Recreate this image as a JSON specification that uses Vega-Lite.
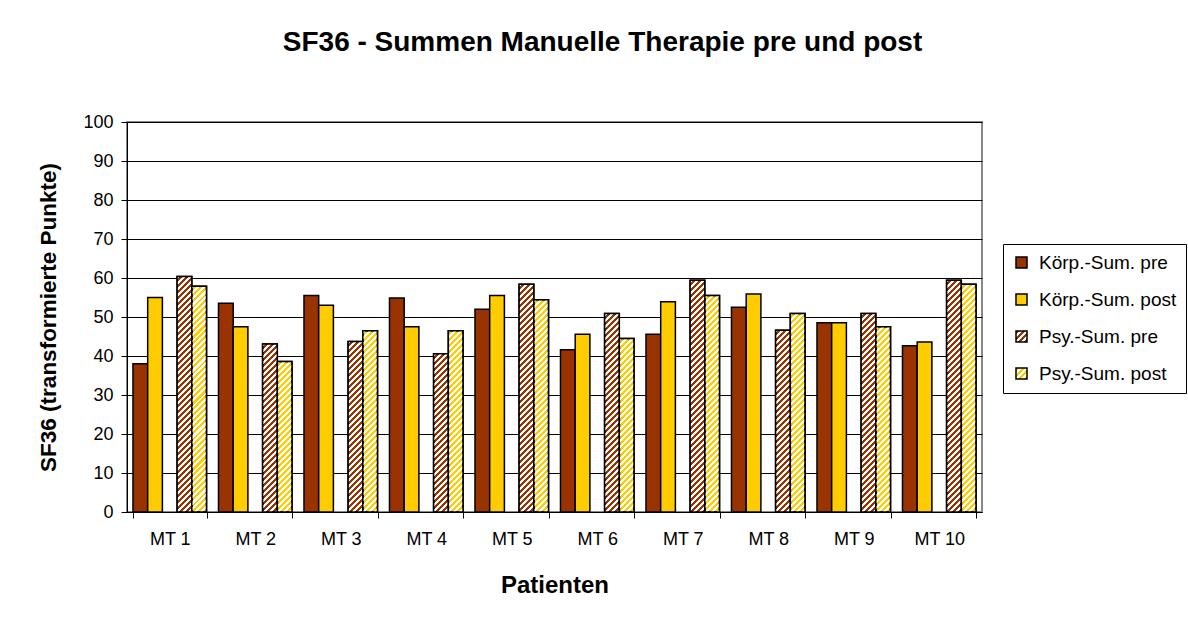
{
  "$schema": "https://vega.github.io/schema/vega-lite/v6.json",
  "autosize": {"type": "none"},
  "width": 855,
  "height": 390,
  "padding": {"left": 127, "top": 122, "right": 206, "bottom": 113},
  "background": "white",
  "config": {
    "font": "Liberation Sans",
    "view": {"stroke": "#888888", "strokeWidth": 2},
    "axis": {"labelFont": "Liberation Sans", "titleFont": "Liberation Sans", "labelColor": "black", "titleColor": "black", "domainColor": "black", "tickColor": "black"}
  },
  "title": {
    "text": "SF36 - Summen Manuelle Therapie pre und post",
    "font": "Liberation Sans",
    "fontSize": 28,
    "fontWeight": "bold",
    "color": "black",
    "anchor": "middle",
    "dx": 48,
    "baseline": "alphabetic",
    "offset": 34
  },
  "params": [
    {"name": "hatch", "value": [
      {"offset":0,"color":"white"},{"offset":0.01136,"color":"white"},{"offset":0.01136,"color":"transparent"},{"offset":0.02273,"color":"transparent"},
      {"offset":0.02273,"color":"white"},{"offset":0.03409,"color":"white"},{"offset":0.03409,"color":"transparent"},{"offset":0.04545,"color":"transparent"},
      {"offset":0.04545,"color":"white"},{"offset":0.05682,"color":"white"},{"offset":0.05682,"color":"transparent"},{"offset":0.06818,"color":"transparent"},
      {"offset":0.06818,"color":"white"},{"offset":0.07955,"color":"white"},{"offset":0.07955,"color":"transparent"},{"offset":0.09091,"color":"transparent"},
      {"offset":0.09091,"color":"white"},{"offset":0.10227,"color":"white"},{"offset":0.10227,"color":"transparent"},{"offset":0.11364,"color":"transparent"},
      {"offset":0.11364,"color":"white"},{"offset":0.125,"color":"white"},{"offset":0.125,"color":"transparent"},{"offset":0.13636,"color":"transparent"},
      {"offset":0.13636,"color":"white"},{"offset":0.14773,"color":"white"},{"offset":0.14773,"color":"transparent"},{"offset":0.15909,"color":"transparent"},
      {"offset":0.15909,"color":"white"},{"offset":0.17045,"color":"white"},{"offset":0.17045,"color":"transparent"},{"offset":0.18182,"color":"transparent"},
      {"offset":0.18182,"color":"white"},{"offset":0.19318,"color":"white"},{"offset":0.19318,"color":"transparent"},{"offset":0.20455,"color":"transparent"},
      {"offset":0.20455,"color":"white"},{"offset":0.21591,"color":"white"},{"offset":0.21591,"color":"transparent"},{"offset":0.22727,"color":"transparent"},
      {"offset":0.22727,"color":"white"},{"offset":0.23864,"color":"white"},{"offset":0.23864,"color":"transparent"},{"offset":0.25,"color":"transparent"},
      {"offset":0.25,"color":"white"},{"offset":0.26136,"color":"white"},{"offset":0.26136,"color":"transparent"},{"offset":0.27273,"color":"transparent"},
      {"offset":0.27273,"color":"white"},{"offset":0.28409,"color":"white"},{"offset":0.28409,"color":"transparent"},{"offset":0.29545,"color":"transparent"},
      {"offset":0.29545,"color":"white"},{"offset":0.30682,"color":"white"},{"offset":0.30682,"color":"transparent"},{"offset":0.31818,"color":"transparent"},
      {"offset":0.31818,"color":"white"},{"offset":0.32955,"color":"white"},{"offset":0.32955,"color":"transparent"},{"offset":0.34091,"color":"transparent"},
      {"offset":0.34091,"color":"white"},{"offset":0.35227,"color":"white"},{"offset":0.35227,"color":"transparent"},{"offset":0.36364,"color":"transparent"},
      {"offset":0.36364,"color":"white"},{"offset":0.375,"color":"white"},{"offset":0.375,"color":"transparent"},{"offset":0.38636,"color":"transparent"},
      {"offset":0.38636,"color":"white"},{"offset":0.39773,"color":"white"},{"offset":0.39773,"color":"transparent"},{"offset":0.40909,"color":"transparent"},
      {"offset":0.40909,"color":"white"},{"offset":0.42045,"color":"white"},{"offset":0.42045,"color":"transparent"},{"offset":0.43182,"color":"transparent"},
      {"offset":0.43182,"color":"white"},{"offset":0.44318,"color":"white"},{"offset":0.44318,"color":"transparent"},{"offset":0.45455,"color":"transparent"},
      {"offset":0.45455,"color":"white"},{"offset":0.46591,"color":"white"},{"offset":0.46591,"color":"transparent"},{"offset":0.47727,"color":"transparent"},
      {"offset":0.47727,"color":"white"},{"offset":0.48864,"color":"white"},{"offset":0.48864,"color":"transparent"},{"offset":0.5,"color":"transparent"},
      {"offset":0.5,"color":"white"},{"offset":0.51136,"color":"white"},{"offset":0.51136,"color":"transparent"},{"offset":0.52273,"color":"transparent"},
      {"offset":0.52273,"color":"white"},{"offset":0.53409,"color":"white"},{"offset":0.53409,"color":"transparent"},{"offset":0.54545,"color":"transparent"},
      {"offset":0.54545,"color":"white"},{"offset":0.55682,"color":"white"},{"offset":0.55682,"color":"transparent"},{"offset":0.56818,"color":"transparent"},
      {"offset":0.56818,"color":"white"},{"offset":0.57955,"color":"white"},{"offset":0.57955,"color":"transparent"},{"offset":0.59091,"color":"transparent"},
      {"offset":0.59091,"color":"white"},{"offset":0.60227,"color":"white"},{"offset":0.60227,"color":"transparent"},{"offset":0.61364,"color":"transparent"},
      {"offset":0.61364,"color":"white"},{"offset":0.625,"color":"white"},{"offset":0.625,"color":"transparent"},{"offset":0.63636,"color":"transparent"},
      {"offset":0.63636,"color":"white"},{"offset":0.64773,"color":"white"},{"offset":0.64773,"color":"transparent"},{"offset":0.65909,"color":"transparent"},
      {"offset":0.65909,"color":"white"},{"offset":0.67045,"color":"white"},{"offset":0.67045,"color":"transparent"},{"offset":0.68182,"color":"transparent"},
      {"offset":0.68182,"color":"white"},{"offset":0.69318,"color":"white"},{"offset":0.69318,"color":"transparent"},{"offset":0.70455,"color":"transparent"},
      {"offset":0.70455,"color":"white"},{"offset":0.71591,"color":"white"},{"offset":0.71591,"color":"transparent"},{"offset":0.72727,"color":"transparent"},
      {"offset":0.72727,"color":"white"},{"offset":0.73864,"color":"white"},{"offset":0.73864,"color":"transparent"},{"offset":0.75,"color":"transparent"},
      {"offset":0.75,"color":"white"},{"offset":0.76136,"color":"white"},{"offset":0.76136,"color":"transparent"},{"offset":0.77273,"color":"transparent"},
      {"offset":0.77273,"color":"white"},{"offset":0.78409,"color":"white"},{"offset":0.78409,"color":"transparent"},{"offset":0.79545,"color":"transparent"},
      {"offset":0.79545,"color":"white"},{"offset":0.80682,"color":"white"},{"offset":0.80682,"color":"transparent"},{"offset":0.81818,"color":"transparent"},
      {"offset":0.81818,"color":"white"},{"offset":0.82955,"color":"white"},{"offset":0.82955,"color":"transparent"},{"offset":0.84091,"color":"transparent"},
      {"offset":0.84091,"color":"white"},{"offset":0.85227,"color":"white"},{"offset":0.85227,"color":"transparent"},{"offset":0.86364,"color":"transparent"},
      {"offset":0.86364,"color":"white"},{"offset":0.875,"color":"white"},{"offset":0.875,"color":"transparent"},{"offset":0.88636,"color":"transparent"},
      {"offset":0.88636,"color":"white"},{"offset":0.89773,"color":"white"},{"offset":0.89773,"color":"transparent"},{"offset":0.90909,"color":"transparent"},
      {"offset":0.90909,"color":"white"},{"offset":0.92045,"color":"white"},{"offset":0.92045,"color":"transparent"},{"offset":0.93182,"color":"transparent"},
      {"offset":0.93182,"color":"white"},{"offset":0.94318,"color":"white"},{"offset":0.94318,"color":"transparent"},{"offset":0.95455,"color":"transparent"},
      {"offset":0.95455,"color":"white"},{"offset":0.96591,"color":"white"},{"offset":0.96591,"color":"transparent"},{"offset":0.97727,"color":"transparent"},
      {"offset":0.97727,"color":"white"},{"offset":0.98864,"color":"white"},{"offset":0.98864,"color":"transparent"},{"offset":1,"color":"transparent"}
    ]}
  ],
  "data": {"values": [
    {"patient":"MT 1","series":"Körp.-Sum. pre","value":38.0},
    {"patient":"MT 1","series":"Körp.-Sum. post","value":55.0},
    {"patient":"MT 1","series":"Psy.-Sum. pre","value":60.4},
    {"patient":"MT 1","series":"Psy.-Sum. post","value":57.9},
    {"patient":"MT 2","series":"Körp.-Sum. pre","value":53.5},
    {"patient":"MT 2","series":"Körp.-Sum. post","value":47.5},
    {"patient":"MT 2","series":"Psy.-Sum. pre","value":43.1},
    {"patient":"MT 2","series":"Psy.-Sum. post","value":38.6},
    {"patient":"MT 3","series":"Körp.-Sum. pre","value":55.5},
    {"patient":"MT 3","series":"Körp.-Sum. post","value":53.0},
    {"patient":"MT 3","series":"Psy.-Sum. pre","value":43.7},
    {"patient":"MT 3","series":"Psy.-Sum. post","value":46.5},
    {"patient":"MT 4","series":"Körp.-Sum. pre","value":54.9},
    {"patient":"MT 4","series":"Körp.-Sum. post","value":47.5},
    {"patient":"MT 4","series":"Psy.-Sum. pre","value":40.6},
    {"patient":"MT 4","series":"Psy.-Sum. post","value":46.5},
    {"patient":"MT 5","series":"Körp.-Sum. pre","value":52.0},
    {"patient":"MT 5","series":"Körp.-Sum. post","value":55.5},
    {"patient":"MT 5","series":"Psy.-Sum. pre","value":58.4},
    {"patient":"MT 5","series":"Psy.-Sum. post","value":54.4},
    {"patient":"MT 6","series":"Körp.-Sum. pre","value":41.6},
    {"patient":"MT 6","series":"Körp.-Sum. post","value":45.6},
    {"patient":"MT 6","series":"Psy.-Sum. pre","value":50.9},
    {"patient":"MT 6","series":"Psy.-Sum. post","value":44.5},
    {"patient":"MT 7","series":"Körp.-Sum. pre","value":45.6},
    {"patient":"MT 7","series":"Körp.-Sum. post","value":53.9},
    {"patient":"MT 7","series":"Psy.-Sum. pre","value":59.4},
    {"patient":"MT 7","series":"Psy.-Sum. post","value":55.5},
    {"patient":"MT 8","series":"Körp.-Sum. pre","value":52.5},
    {"patient":"MT 8","series":"Körp.-Sum. post","value":55.9},
    {"patient":"MT 8","series":"Psy.-Sum. pre","value":46.6},
    {"patient":"MT 8","series":"Psy.-Sum. post","value":50.9},
    {"patient":"MT 9","series":"Körp.-Sum. pre","value":48.5},
    {"patient":"MT 9","series":"Körp.-Sum. post","value":48.5},
    {"patient":"MT 9","series":"Psy.-Sum. pre","value":50.9},
    {"patient":"MT 9","series":"Psy.-Sum. post","value":47.5},
    {"patient":"MT 10","series":"Körp.-Sum. pre","value":42.6},
    {"patient":"MT 10","series":"Körp.-Sum. post","value":43.6},
    {"patient":"MT 10","series":"Psy.-Sum. pre","value":59.4},
    {"patient":"MT 10","series":"Psy.-Sum. post","value":58.4}
  ]},
  "encoding": {
    "x": {
      "field": "patient", "type": "nominal",
      "scale": {"domain": ["MT 1","MT 2","MT 3","MT 4","MT 5","MT 6","MT 7","MT 8","MT 9","MT 10"], "paddingInner": 0.14, "paddingOuter": 0.07},
      "axis": {"title": "Patienten", "titleFontSize": 24, "titleFontWeight": "bold", "titleX": 427.5, "titleY": 73, "titleBaseline": "middle", "labelAngle": 0, "labelFontSize": 18, "labelPadding": 12, "tickBand": "extent", "tickSize": 6, "domainWidth": 1, "tickWidth": 1}
    },
    "xOffset": {
      "field": "series", "type": "nominal",
      "scale": {"domain": ["Körp.-Sum. pre","Körp.-Sum. post","gap","Psy.-Sum. pre","Psy.-Sum. post"], "paddingInner": 0, "paddingOuter": 0}
    },
    "y": {
      "field": "value", "type": "quantitative",
      "scale": {"domain": [0, 100], "nice": false},
      "axis": {"title": "SF36 (transformierte Punkte)", "titleFontSize": 22.5, "titleFontWeight": "bold", "titleX": -79, "titleY": 195, "titleAngle": 270, "titleBaseline": "middle", "titleAlign": "center", "values": [0,10,20,30,40,50,60,70,80,90,100], "labelFontSize": 18, "labelPadding": 8, "tickSize": 6, "grid": true, "gridColor": "black", "gridWidth": 1, "domainWidth": 1}
    }
  },
  "layer": [
    {
      "transform": [{"filter": "indexof(datum.series, 'Körp') == 0"}],
      "mark": {"type": "bar", "stroke": "black", "strokeWidth": 1.5},
      "encoding": {
        "fill": {
          "field": "series", "type": "nominal",
          "scale": {"domain": ["Körp.-Sum. pre","Körp.-Sum. post","Psy.-Sum. pre","Psy.-Sum. post"], "range": [
            "#993300",
            "#FFCC00",
            {"expr": "{gradient: 'linear', x1: 0, y1: 0, x2: 1, y2: 1, stops: [{offset: 0, color: '#993300'}, {offset: 0.1429, color: '#993300'}, {offset: 0.1429, color: 'white'}, {offset: 0.2857, color: 'white'}, {offset: 0.2857, color: '#993300'}, {offset: 0.4286, color: '#993300'}, {offset: 0.4286, color: 'white'}, {offset: 0.5714, color: 'white'}, {offset: 0.5714, color: '#993300'}, {offset: 0.7143, color: '#993300'}, {offset: 0.7143, color: 'white'}, {offset: 0.8571, color: 'white'}, {offset: 0.8571, color: '#993300'}, {offset: 1, color: '#993300'}]}"},
            {"expr": "{gradient: 'linear', x1: 0, y1: 0, x2: 1, y2: 1, stops: [{offset: 0, color: '#FFCC00'}, {offset: 0.1429, color: '#FFCC00'}, {offset: 0.1429, color: 'white'}, {offset: 0.2857, color: 'white'}, {offset: 0.2857, color: '#FFCC00'}, {offset: 0.4286, color: '#FFCC00'}, {offset: 0.4286, color: 'white'}, {offset: 0.5714, color: 'white'}, {offset: 0.5714, color: '#FFCC00'}, {offset: 0.7143, color: '#FFCC00'}, {offset: 0.7143, color: 'white'}, {offset: 0.8571, color: 'white'}, {offset: 0.8571, color: '#FFCC00'}, {offset: 1, color: '#FFCC00'}]}"}
          ]},
          "legend": {
            "title": null,
            "orient": "none",
            "legendX": 876,
            "legendY": 122,
            "fillColor": "white",
            "strokeColor": "black",
            "padding": 9,
            "symbolType": "square",
            "symbolSize": 121,
            "symbolStrokeColor": "black",
            "symbolStrokeWidth": 1.5,
            "symbolOpacity": 1,
            "labelFont": "Liberation Sans",
            "labelFontSize": 19,
            "labelColor": "black",
            "labelOffset": 8,
            "rowPadding": 17,
            "labelLimit": 300
          }
        }
      }
    },
    {
      "transform": [{"filter": "indexof(datum.series, 'Psy') == 0"}],
      "mark": {"type": "bar", "stroke": "black", "strokeWidth": 1.5, "fill": {"expr": "datum.series == 'Psy.-Sum. pre' ? '#993300' : '#FFCC00'"}},
      "encoding": {}
    },
    {
      "transform": [{"filter": "indexof(datum.series, 'Psy') == 0"}],
      "mark": {"type": "bar", "stroke": "black", "strokeWidth": 1.5, "fill": {"expr": "{gradient: 'linear', x1: 0, y1: 0, x2: 264 * 14.706 / (216.27 + pow(datum.value * 3.9, 2)), y2: 264 * datum.value * 3.9 / (216.27 + pow(datum.value * 3.9, 2)), stops: hatch}"}},
      "encoding": {}
    }
  ]
}
